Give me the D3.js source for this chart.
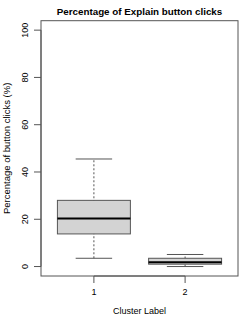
<!DOCTYPE html>
<html>
<head>
<meta charset="utf-8">
<script src="https://cdn.jsdelivr.net/npm/d3@7"></script>
<style>
  body { margin: 0; background: #fff; }
  text { font-family: "Liberation Sans", Arial, sans-serif; fill: #000; }
</style>
</head>
<body>
<script>
var clusters = ["1", "2"],
    whiskerLow = [3.5, 0.0],
    q1 = [13.8, 1.0],
    medians = [20.3, 1.8],
    q3 = [28.0, 3.5],
    whiskerHigh = [45.5, 5.1],
    yTicks = [0, 20, 40, 60, 80, 100];

var w = 249, h = 318,
    plotLeft = 41, plotRight = 238, plotTop = 20.7, plotBottom = 276;

var svg = d3.select("body").append("svg").attr("width", w).attr("height", h);

// R style: 4% extension of the data range
var x = d3.scaleLinear().domain([0.42, 2.58]).range([plotLeft, plotRight]);
var y = d3.scaleLinear().domain([-4, 104]).range([plotBottom, plotTop]);

var lineCol = "#555";

// y axis
var yAxis = svg.append("g").attr("transform", "translate(" + plotLeft + ",0)");
yAxis.append("line")
    .attr("x1", 0).attr("x2", 0)
    .attr("y1", y(0)).attr("y2", y(100))
    .attr("stroke", lineCol);
yAxis.selectAll("line.tick").data(yTicks).enter().append("line")
    .attr("class", "tick")
    .attr("x1", 0).attr("x2", -7)
    .attr("y1", function(d){ return y(d); })
    .attr("y2", function(d){ return y(d); })
    .attr("stroke", lineCol);
yAxis.selectAll("text").data(yTicks).enter().append("text")
    .attr("transform", function(d){ return "translate(-13," + y(d) + ") rotate(-90)"; })
    .attr("text-anchor", "middle")
    .attr("font-size", "9px")
    .text(function(d){ return d; });

// x axis
var xAxis = svg.append("g").attr("transform", "translate(0," + plotBottom + ")");
xAxis.append("line")
    .attr("x1", x(1)).attr("x2", x(2))
    .attr("y1", 0).attr("y2", 0)
    .attr("stroke", lineCol);
xAxis.selectAll("line.tick").data(clusters).enter().append("line")
    .attr("class", "tick")
    .attr("x1", function(d, i){ return x(i + 1); })
    .attr("x2", function(d, i){ return x(i + 1); })
    .attr("y1", 0).attr("y2", 7)
    .attr("stroke", lineCol);
xAxis.selectAll("text").data(clusters).enter().append("text")
    .attr("x", function(d, i){ return x(i + 1); })
    .attr("y", 19)
    .attr("text-anchor", "middle")
    .attr("font-size", "9px")
    .text(function(d){ return d; });

// plot frame
svg.append("rect")
    .attr("x", plotLeft).attr("y", plotTop)
    .attr("width", plotRight - plotLeft).attr("height", plotBottom - plotTop)
    .attr("fill", "none").attr("stroke", lineCol);

// boxes
var boxW = 0.8, capW = 0.4;
var boxes = svg.selectAll("g.box").data(clusters).enter().append("g").attr("class", "box");

boxes.append("line")
    .attr("x1", function(d, i){ return x(i + 1); })
    .attr("x2", function(d, i){ return x(i + 1); })
    .attr("y1", function(d, i){ return y(whiskerLow[i]); })
    .attr("y2", function(d, i){ return y(whiskerHigh[i]); })
    .attr("stroke", lineCol).attr("stroke-dasharray", "2,2");

boxes.selectAll("line.cap")
    .data(function(d, i){ return [whiskerLow[i], whiskerHigh[i]].map(function(v){ return {v: v, i: i}; }); })
    .enter().append("line")
    .attr("class", "cap")
    .attr("x1", function(d){ return x(d.i + 1 - capW / 2); })
    .attr("x2", function(d){ return x(d.i + 1 + capW / 2); })
    .attr("y1", function(d){ return y(d.v); })
    .attr("y2", function(d){ return y(d.v); })
    .attr("stroke", lineCol);

boxes.append("rect")
    .attr("x", function(d, i){ return x(i + 1 - boxW / 2); })
    .attr("width", function(){ return x(1 + boxW) - x(1); })
    .attr("y", function(d, i){ return y(q3[i]); })
    .attr("height", function(d, i){ return y(q1[i]) - y(q3[i]); })
    .attr("fill", "#d3d3d3").attr("stroke", lineCol);

boxes.append("line")
    .attr("x1", function(d, i){ return x(i + 1 - boxW / 2); })
    .attr("x2", function(d, i){ return x(i + 1 + boxW / 2); })
    .attr("y1", function(d, i){ return y(medians[i]); })
    .attr("y2", function(d, i){ return y(medians[i]); })
    .attr("stroke", "#000").attr("stroke-width", 2);

// titles
svg.append("text")
    .attr("x", (plotLeft + plotRight) / 2).attr("y", 14.5)
    .attr("text-anchor", "middle")
    .attr("font-size", "9.8px").attr("font-weight", "bold")
    .text("Percentage of Explain button clicks");

svg.append("text")
    .attr("x", (plotLeft + plotRight) / 2).attr("y", 314)
    .attr("text-anchor", "middle")
    .attr("font-size", "9px")
    .text("Cluster Label");

svg.append("text")
    .attr("transform", "translate(10," + ((plotTop + plotBottom) / 2) + ") rotate(-90)")
    .attr("text-anchor", "middle")
    .attr("font-size", "9.5px")
    .text("Percentage of button clicks (%)");
</script>
</body>
</html>
